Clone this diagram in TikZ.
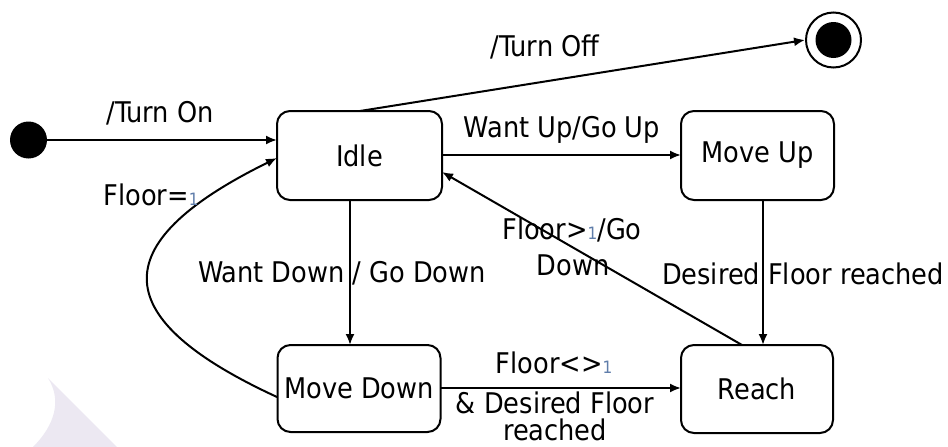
\documentclass[tikz,border=0pt]{standalone}
\usepackage{fontspec}
\setmainfont{DejaVu Sans Condensed}
\usetikzlibrary{arrows.meta}
\definecolor{onec}{RGB}{95,125,170}
\definecolor{wmark}{RGB}{236,232,242}
\newcommand\onesub{{\fontsize{17}{17}\selectfont\color{onec}1}}
\tikzset{
  state/.style={draw=black, line width=2pt, rounded corners=13pt, fill=white,
    font=\fontsize{28.5}{32}\selectfont, inner sep=0pt},
  lbl/.style={font=\fontsize{28.5}{32}\selectfont, inner sep=0pt, align=center},
  edge/.style={draw=black, line width=2pt, -{Latex[length=11pt,width=9pt]}},
}
\begin{document}
\begin{tikzpicture}[x=1pt,y=-1pt]
\useasboundingbox (0,0) rectangle (948,447);
\fill[white] (0,0) rectangle (948,447);
% faint watermark
\fill[wmark] (48,378) -- (117,447) -- (33,447) .. controls (55,425) and (62,400) .. cycle;

% states
\node[state, minimum width=165pt, minimum height=89pt] (idle) at (359.5,155.5) {Idle};
\node[state, minimum width=153pt, minimum height=89pt] (up) at (757.5,155.5) {Move Up};
\node[state, minimum width=163pt, minimum height=87pt] (down) at (359,388.5) {Move Down};
\node[state, minimum width=152pt, minimum height=88pt] (reach) at (757,389) {Reach};

% pseudo states
\node[circle, fill=black, minimum size=37pt, inner sep=0pt] (init) at (28.5,140) {};
\node[circle, draw=black, line width=2pt, fill=white, minimum size=55pt, inner sep=0pt] (final) at (833.5,40) {};
\node[circle, fill=black, minimum size=36pt, inner sep=0pt] (finalin) at (833.5,40) {};

% coordinates for connector ends
\coordinate (idleW1) at (277,140);
\coordinate (idleW2) at (277,158);
\coordinate (idleE1) at (442,155);
\coordinate (idleE2) at (442,172);
\coordinate (idleN) at (360,111);
\coordinate (idleS) at (350,200);
\coordinate (downN) at (350,345);
\coordinate (downW) at (277,397);
\coordinate (downE) at (441,388);
\coordinate (upW) at (681,155);
\coordinate (upS) at (763,200);
\coordinate (reachN1) at (763,345);
\coordinate (reachN2) at (742,345);
\coordinate (reachW) at (681,388);
\coordinate (finalW) at (805,40);

% connectors
\draw[edge] (init) -- (idleW1);
\draw[edge] (idleN) -- (finalW);
\draw[edge] (idleE1) -- (upW);
\draw[edge] (idleS) -- (downN);
\draw[edge] (upS) -- (reachN1);
\draw[edge] (reachN2) -- (idleE2);
\draw[edge] (downE) -- (reachW);
\draw[edge] (downW) .. controls (110,320) and (100,245) .. (idleW2);

% labels
\node[lbl] (lOn) at (160,113) {/Turn On};
\node[lbl] (lOff) at (545,47) {/Turn Off};
\node[lbl] (lUp) at (562,130) {Want Up/Go Up};
\node[lbl] (lDown) at (342,273) {Want Down / Go Down};
\node[lbl] (lFl1) at (151,195) {Floor=\onesub};
\node[lbl] (lGt) at (572,230) {Floor>\onesub/Go};
\node[lbl] (lGt2) at (573,265) {Down};
\node[lbl] (lDes) at (803,274) {Desired Floor reached};
\node[lbl] (lNe) at (554,363) {Floor<>\onesub};
\node[lbl, font=\fontsize{28.5}{27}\selectfont] (lNe2) at (555,416) {\&\ Desired Floor\\reached};
\end{tikzpicture}
\end{document}
